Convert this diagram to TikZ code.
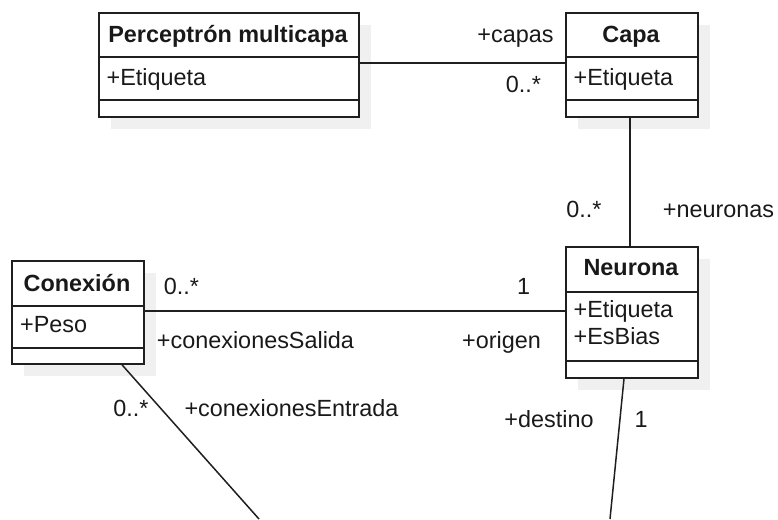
\documentclass[tikz,border=0pt]{standalone}
\usepackage{fontspec}
\setmainfont{Liberation Sans}
\usetikzlibrary{shadows}
\begin{document}
\begin{tikzpicture}[x=1pt,y=-1pt,
  font=\fontsize{23.4}{27}\selectfont,
  every node/.style={inner sep=0pt, text=black!90},
  classbox/.style={draw=black!88, line width=1.8pt, fill=white, anchor=north west,
    drop shadow={shadow xshift=12.5pt, shadow yshift=-12pt, fill=black!6, opacity=1}},
  divider/.style={draw=black!88, line width=1.8pt},
  hdr/.style={anchor=base, font=\fontsize{23.4}{27}\selectfont\bfseries},
  attr/.style={anchor=base west},
  lbl/.style={anchor=base},
  assoc/.style={draw=black!88, line width=1.5pt}
]
\useasboundingbox (0,0) rectangle (778,519);

% Perceptrón multicapa
\node[classbox, minimum width=260pt, minimum height=104pt] (pm) at (98,12) {};
\draw[divider] (98,57) -- (358,57);
\draw[divider] (98,100) -- (358,100);
\node[hdr] (pmh) at (228,42) {Perceptrón multicapa};
\node[attr] (pma) at (106.5,85) {+Etiqueta};

% Capa
\node[classbox, minimum width=132pt, minimum height=104pt] (capa) at (565,12) {};
\draw[divider] (565,57) -- (697,57);
\draw[divider] (565,100) -- (697,100);
\node[hdr] (capah) at (631,42) {Capa};
\node[attr] (capaa) at (573.5,85) {+Etiqueta};

% Conexión
\node[classbox, minimum width=132pt, minimum height=103pt] (con) at (11,260) {};
\draw[divider] (11,306) -- (143,306);
\draw[divider] (11,348) -- (143,348);
\node[hdr] (conh) at (77,291) {Conexión};
\node[attr] (cona) at (20,332) {+Peso};

% Neurona
\node[classbox, minimum width=132pt, minimum height=131pt] (neu) at (565,246) {};
\draw[divider] (565,292) -- (697,292);
\draw[divider] (565,361) -- (697,361);
\node[hdr] (neuh) at (631,275) {Neurona};
\node[attr] (neua) at (573.5,317) {+Etiqueta};
\node[attr] (neub) at (573.5,344) {+EsBias};

% free ends of the two lower associations
\coordinate (endA) at (259,519);
\coordinate (endB) at (610,519);

% associations
\draw[assoc] (pm.east |- 0,63) -- (capa.west |- 0,63);
\draw[assoc] (capa.south -| 630,0) -- (neu.north -| 630,0);
\draw[assoc] (con.east |- 0,311) -- (neu.west |- 0,311);
\draw[assoc] (con.south -| 122,0) -- (endA);
\draw[assoc] (neu.south -| 624,0) -- (endB);

% role names and multiplicities
\node[lbl] (l1) at (515.5,42) {+capas};
\node[lbl] (l2) at (523.5,92) {0..*};
\node[lbl] (l3) at (584,217) {0..*};
\node[lbl] (l4) at (718.5,217) {+neuronas};
\node[lbl] (l5) at (181.5,294) {0..*};
\node[lbl] (l6) at (523.5,294) {1};
\node[lbl] (l7) at (255.5,348) {+conexionesSalida};
\node[lbl] (l8) at (501.5,348) {+origen};
\node[lbl] (l9) at (131,416) {0..*};
\node[lbl] (l10) at (291.5,416) {+conexionesEntrada};
\node[lbl] (l11) at (549,427) {+destino};
\node[lbl] (l12) at (641,427) {1};
\end{tikzpicture}
\end{document}
